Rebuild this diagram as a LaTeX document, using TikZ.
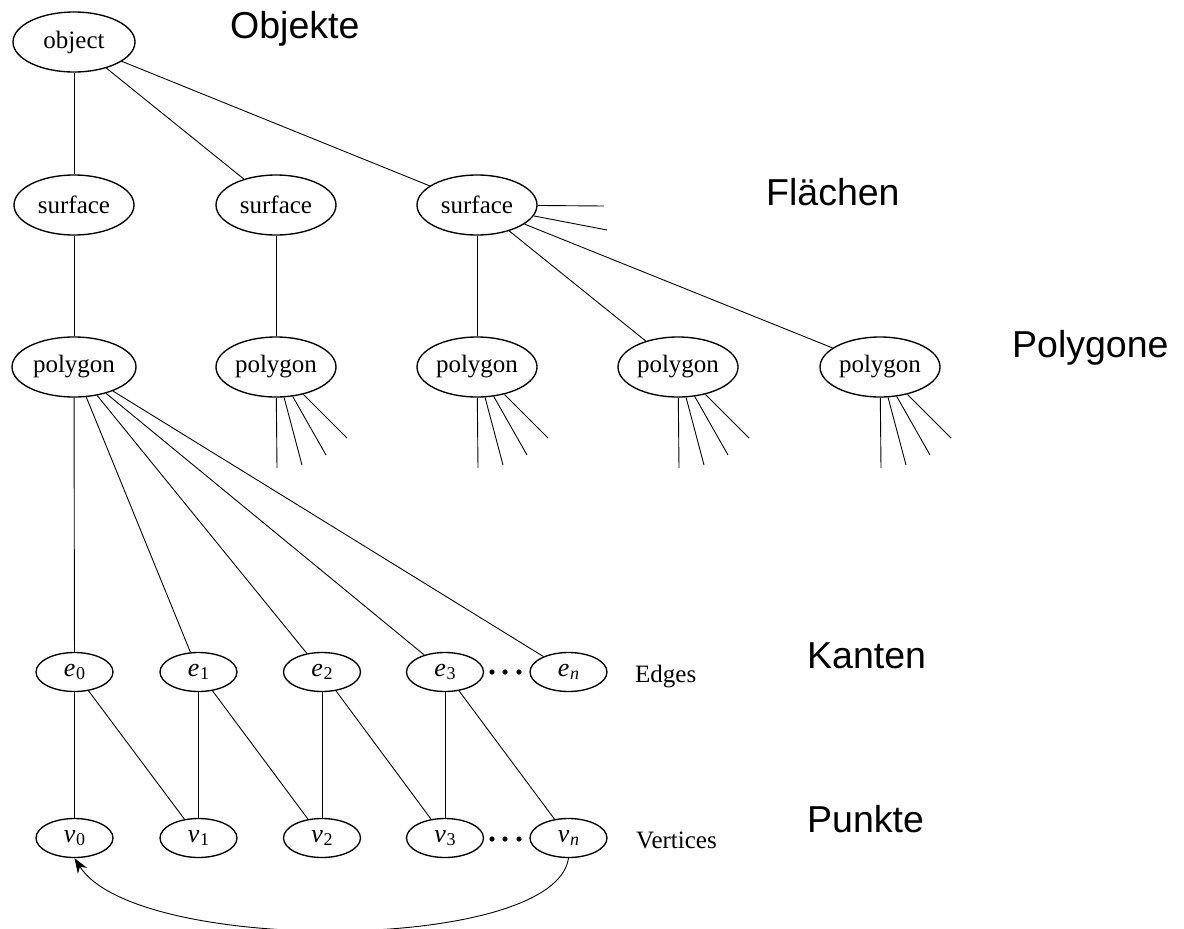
\documentclass[tikz,border=0pt]{standalone}
\usepackage{fontspec}
\setmainfont{Liberation Serif}
\newfontfamily\levelfont{Liberation Sans}
\usetikzlibrary{shapes.geometric,arrows.meta}

\tikzset{
  bignode/.style={ellipse, draw, line width=1.35pt, minimum width=120pt,
    minimum height=60pt, inner sep=0pt, font=\fontsize{25}{30}\selectfont},
  smallnode/.style={ellipse, draw, line width=1.35pt, minimum width=77pt,
    minimum height=39pt, inner sep=0pt, font=\fontsize{26}{30}\selectfont},
  link/.style={line width=0.9pt},
  levellabel/.style={anchor=base west, inner sep=0pt,
    font=\levelfont\fontsize{37.5}{40}\selectfont},
  rowlabel/.style={anchor=base west, inner sep=0pt,
    font=\fontsize{25}{30}\selectfont},
}
% italic letter with a lowered index
\newcommand{\idx}[2]{\textit{#1}\kern0.5pt\raisebox{-3pt}{\fontsize{18}{18}\selectfont #2}}

\begin{document}
\begin{tikzpicture}[x=1pt,y=-1pt]
\useasboundingbox (0,0) rectangle (1184,929);

% ---- hierarchy nodes ----
\node[bignode, minimum width=122pt] (obj) at (74,42) {object};

\node[bignode] (s1) at (74,205)  {surface};
\node[bignode] (s2) at (276,205) {surface};
\node[bignode] (s3) at (477,205) {surface};

\node[bignode, minimum width=124pt] (p1) at (74,367) {polygon};
\node[bignode] (p2) at (276,367) {polygon};
\node[bignode] (p3) at (477,367) {polygon};
\node[bignode] (p4) at (678,367) {polygon};
\node[bignode] (p5) at (880,367) {polygon};

\node[smallnode] (e0) at (74.5,672) {\idx{e}{0}};
\node[smallnode] (e1) at (198.5,672) {\idx{e}{1}};
\node[smallnode] (e2) at (322,672) {\idx{e}{2}};
\node[smallnode] (e3) at (445,672) {\idx{e}{3}};
\node[smallnode] (en) at (568.5,672) {\idx{e}{\textit{n}}};

\node[smallnode] (v0) at (74.5,838) {\idx{v}{0}};
\node[smallnode] (v1) at (198.5,838) {\idx{v}{1}};
\node[smallnode] (v2) at (322,838) {\idx{v}{2}};
\node[smallnode] (v3) at (445,838) {\idx{v}{3}};
\node[smallnode] (vn) at (568.5,838) {\idx{v}{\textit{n}}};

% ellipsis dots between the third and the last element
\foreach \x in {492,505,519} {
  \fill (\x,672) circle (2.6pt);
  \fill (\x,839) circle (2.6pt);
}

% ---- level labels ----
\node[levellabel] (lobj)  at (230,38)   {Objekte};
\node[levellabel] (lsurf) at (766,205)  {Flächen};
\node[levellabel] (lpoly) at (1012,357) {Polygone};
\node[levellabel] (ledge) at (807,668)  {Kanten};
\node[levellabel] (lvert) at (807,832)  {Punkte};

\node[rowlabel] (redge) at (635,682) {Edges};
\node[rowlabel] (rvert) at (636,848) {Vertices};

% ---- connectors ----
\draw[link] (obj) -- (s1);
\draw[link] (obj) -- (s2);
\draw[link] (obj) -- (s3);

\draw[link] (s1) -- (p1);
\draw[link] (s2) -- (p2);
\draw[link] (s3) -- (p3);
\draw[link] (s3) -- (p4);
\draw[link] (s3) -- (p5);

% further surfaces hinted by open stubs
\coordinate (s3a) at (604,206);
\coordinate (s3b) at (607,230);
\draw[link] (s3) -- (s3a);
\draw[link] (s3) -- (s3b);

% further edges of the other polygons hinted by open stubs
\foreach \p/\x in {p2/276,p3/477,p4/678,p5/880} {
  \coordinate (\p a) at (\x+1,468);
  \coordinate (\p b) at (\x+26,465);
  \coordinate (\p c) at (\x+50,455);
  \coordinate (\p d) at (\x+71,438);
  \draw[link] (\p) -- (\p a);
  \draw[link] (\p) -- (\p b);
  \draw[link] (\p) -- (\p c);
  \draw[link] (\p) -- (\p d);
}

\foreach \e in {e0,e1,e2,e3,en}
  \draw[link] (p1) -- (\e);

\draw[link] (e0) -- (v0);
\draw[link] (e0) -- (v1);
\draw[link] (e1) -- (v1);
\draw[link] (e1) -- (v2);
\draw[link] (e2) -- (v2);
\draw[link] (e2) -- (v3);
\draw[link] (e3) -- (v3);
\draw[link] (e3) -- (vn);

% closing link from the last vertex back to the first
\draw[link, -{Stealth[length=15pt,width=11pt]}]
  (vn.south) .. controls (555,953) and (136,955) .. (v0.south);
\end{tikzpicture}
\end{document}
